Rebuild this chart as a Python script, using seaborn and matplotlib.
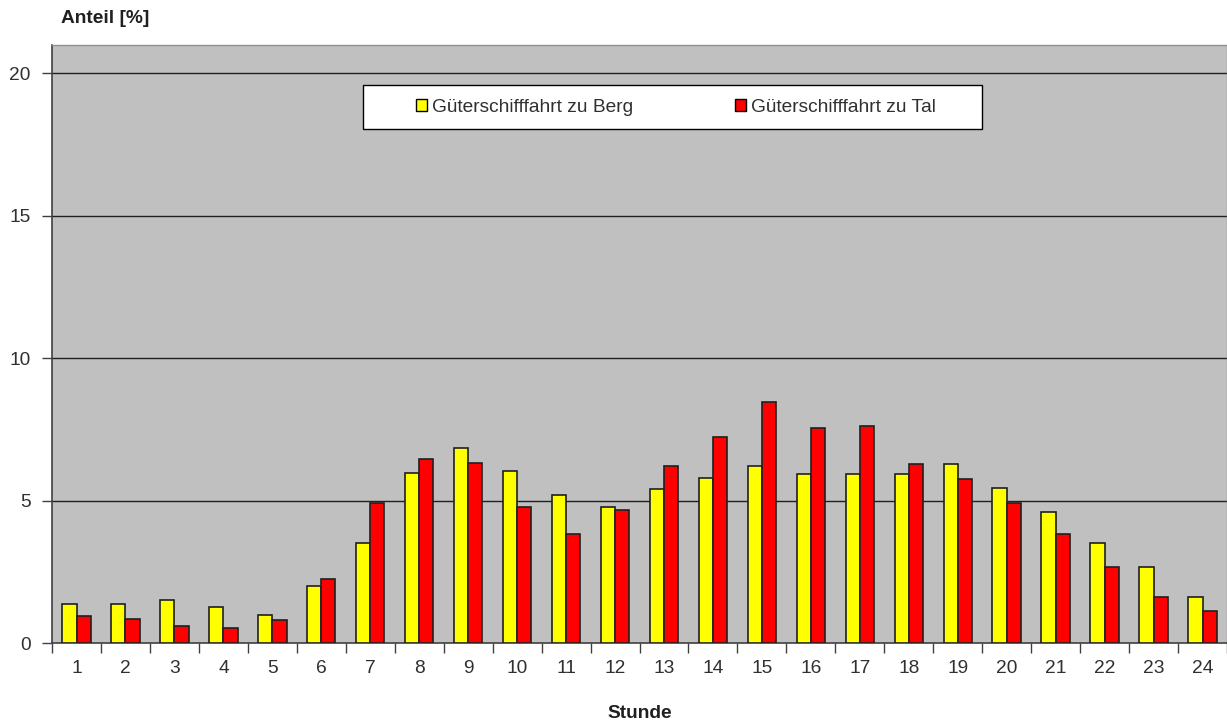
import pandas as pd
import matplotlib
matplotlib.use('Agg')
import matplotlib.pyplot as plt
from matplotlib.patches import Patch, Rectangle
import seaborn as sns

# Anteil je Stunde [%]
stunden = list(range(1, 25))
berg = [1.37, 1.37, 1.50, 1.27, 0.98, 2.00, 3.51, 5.98, 6.85, 6.05, 5.20, 4.78,
        5.41, 5.80, 6.22, 5.94, 5.94, 5.94, 6.30, 5.45, 4.60, 3.51, 2.67, 1.62]
tal = [0.95, 0.84, 0.60, 0.53, 0.81, 2.25, 4.92, 6.47, 6.33, 4.78, 3.83, 4.67,
       6.22, 7.24, 8.47, 7.56, 7.63, 6.29, 5.76, 4.92, 3.83, 2.67, 1.62, 1.12]
serien = ['Güterschifffahrt zu Berg', 'Güterschifffahrt zu Tal']
farben = ['#FFFF00', '#FF0000']

df = pd.DataFrame({
    'Stunde': stunden * 2,
    'Anteil': berg + tal,
    'Serie': [serien[0]] * 24 + [serien[1]] * 24,
})

sns.set_style('white')
plt.rcParams['font.family'] = ['Liberation Sans', 'DejaVu Sans']
fs = 13.8
txt = '#303030'

fig = plt.figure(figsize=(12.27, 7.21), dpi=100)
ax = fig.add_axes([0.0424, 0.108, 0.9576, 0.8296])
ax.set_facecolor('#C0C0C0')

sns.barplot(data=df, x='Stunde', y='Anteil', hue='Serie', palette=farben,
            width=0.58, saturation=1, edgecolor='#202020', linewidth=1.2,
            ax=ax, zorder=3, legend=False)

ax.set_ylim(0, 21)
ax.set_xlim(-0.5, 23.5)
ax.set_yticks([0, 5, 10, 15, 20])
for y in [5, 10, 15, 20]:
    ax.axhline(y, color='#202020', linewidth=1, zorder=1)

ax.set_xlabel('')
ax.set_ylabel('')
ax.tick_params(axis='x', which='major', length=0, pad=12.5, labelsize=fs, colors=txt)
ax.set_xticks([i + 0.5 for i in range(-1, 24)], minor=True)
ax.tick_params(axis='x', which='minor', length=7, width=1, color='#404040', direction='out')
ax.tick_params(axis='y', length=7, width=1, color='#404040', direction='out', pad=8.5,
               labelsize=fs, labelcolor=txt)
ax.tick_params(axis='both', bottom=True, left=True)
ax.xaxis.set_tick_params(which='minor', bottom=True)

for s in ['left', 'bottom']:
    ax.spines[s].set_color('#404040')
    ax.spines[s].set_linewidth(1.2)
for s in ['top', 'right']:
    ax.spines[s].set_color('#909090')
    ax.spines[s].set_linewidth(1)

# Legendenkasten
box = Rectangle((363 / 1227, 1 - 129 / 721), 619 / 1227, 44 / 721, transform=fig.transFigure,
                facecolor='white', edgecolor='black', linewidth=1, zorder=5)
ax.add_patch(box)
box.set_clip_on(False)
handles = [Patch(facecolor=c, edgecolor='black', linewidth=1) for c in farben]
leg = ax.legend(handles, serien, loc='center', bbox_to_anchor=(676 / 1227, 1 - 107 / 721),
                bbox_transform=fig.transFigure, ncol=2, frameon=False, fontsize=fs,
                handlelength=0.6, handleheight=0.6, handletextpad=0.25, columnspacing=5.3,
                labelcolor=txt)
leg.set_zorder(6)

fig.text(0.05, 0.975, 'Anteil [%]', fontsize=fs, fontweight='bold', va='center', ha='left',
         color='#202020')
fig.text(0.5215, 1 - 713 / 721, 'Stunde', fontsize=fs, fontweight='bold', va='center',
         ha='center', color='#202020')

fig.savefig('out.png', dpi=100)
